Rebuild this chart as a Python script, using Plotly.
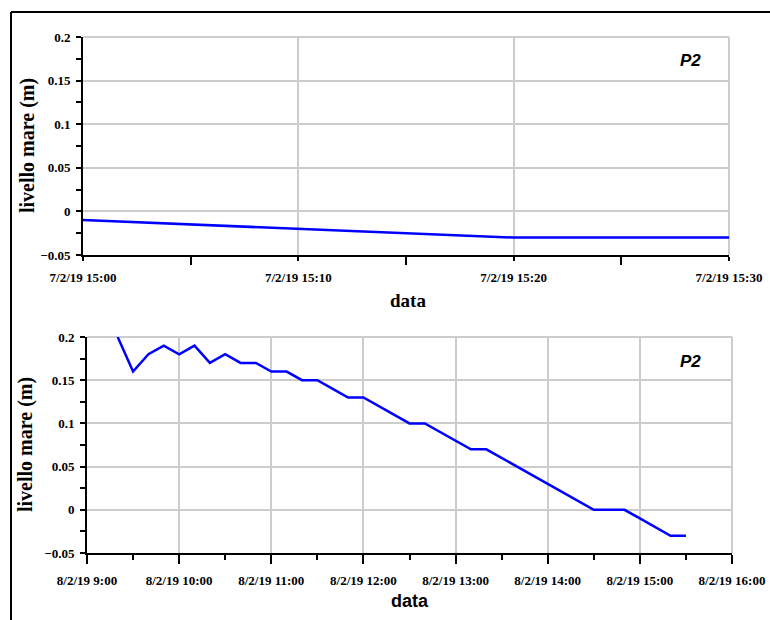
import plotly.graph_objects as go

# Tide gauge P2 - sea level, 7 Feb 2019 afternoon
times_7feb = ["2019-02-07 15:00", "2019-02-07 15:10", "2019-02-07 15:20", "2019-02-07 15:30"]
level_7feb = [-0.01, -0.02, -0.03, -0.03]

# Tide gauge P2 - sea level, 8 Feb 2019
times_8feb = [
    "2019-02-08 09:20", "2019-02-08 09:30", "2019-02-08 09:40", "2019-02-08 09:50",
    "2019-02-08 10:00", "2019-02-08 10:10", "2019-02-08 10:20", "2019-02-08 10:30",
    "2019-02-08 10:40", "2019-02-08 10:50", "2019-02-08 11:00", "2019-02-08 11:10",
    "2019-02-08 11:20", "2019-02-08 11:30", "2019-02-08 11:40", "2019-02-08 11:50",
    "2019-02-08 12:00", "2019-02-08 12:10", "2019-02-08 12:20", "2019-02-08 12:30",
    "2019-02-08 12:40", "2019-02-08 12:50", "2019-02-08 13:00", "2019-02-08 13:10",
    "2019-02-08 13:20", "2019-02-08 13:30", "2019-02-08 13:40", "2019-02-08 13:50",
    "2019-02-08 14:00", "2019-02-08 14:10", "2019-02-08 14:20", "2019-02-08 14:30",
    "2019-02-08 14:40", "2019-02-08 14:50", "2019-02-08 15:00", "2019-02-08 15:10",
    "2019-02-08 15:20", "2019-02-08 15:30",
]
level_8feb = [
    0.20, 0.16, 0.18, 0.19,
    0.18, 0.19, 0.17, 0.18,
    0.17, 0.17, 0.16, 0.16,
    0.15, 0.15, 0.14, 0.13,
    0.13, 0.12, 0.11, 0.10,
    0.10, 0.09, 0.08, 0.07,
    0.07, 0.06, 0.05, 0.04,
    0.03, 0.02, 0.01, 0.00,
    0.00, 0.00, -0.01, -0.02,
    -0.03, -0.03,
]

y_range = [-0.05, 0.2]
y_label = "livello mare (m)"
x_label = "data"
station = "P2"

W, H = 770, 620
SERIF = "Liberation Serif"
SANS = "Liberation Sans"
GRID = "#cccccc"
LINE_BLUE = "#0000ff"

fig = go.Figure()
fig.add_trace(go.Scatter(x=times_7feb, y=level_7feb, mode="lines",
                         line=dict(color=LINE_BLUE, width=2.5),
                         xaxis="x", yaxis="y", showlegend=False))
fig.add_trace(go.Scatter(x=times_8feb, y=level_8feb, mode="lines",
                         line=dict(color=LINE_BLUE, width=2.5),
                         xaxis="x2", yaxis="y2", showlegend=False))


def px_x(v):
    return v / W


def px_y(v):
    return 1 - v / H


tickfont = dict(family=SERIF, size=13, color="black", weight="bold")

common_y = dict(
    range=y_range, dtick=0.05, tick0=0, showgrid=True, gridcolor=GRID, gridwidth=2,
    zeroline=False, showline=True, linecolor="black", linewidth=2,
    ticks="outside", ticklen=5, tickwidth=2, tickcolor="black",
    minor=dict(dtick=0.025, tick0=0, ticks="outside", ticklen=5, tickwidth=2,
               tickcolor="black", showgrid=False),
    tickfont=tickfont, fixedrange=True, ticklabelstandoff=3,
)

fig.update_layout(
    width=W, height=H,
    margin=dict(l=0, r=0, t=0, b=0),
    paper_bgcolor="white", plot_bgcolor="white",
    xaxis=dict(
        domain=[px_x(83), px_x(729)], anchor="y", type="date",
        range=["2019-02-07 15:00", "2019-02-07 15:30"],
        dtick=600000, tick0="2019-02-07 15:00", tickformat="%-d/%-m/%y %H:%M",
        showgrid=True, gridcolor=GRID, gridwidth=2,
        showline=True, linecolor="black", linewidth=2,
        ticks="outside", ticklen=4, tickwidth=2, tickcolor="black",
        minor=dict(dtick=300000, tick0="2019-02-07 15:00", ticks="outside",
                   ticklen=8, tickwidth=2, tickcolor="black", showgrid=False),
        tickfont=tickfont, tickangle=0, automargin=False, ticklabelstandoff=5,
    ),
    yaxis=dict(domain=[px_y(255), px_y(37)], anchor="x", automargin=False, **common_y),
    xaxis2=dict(
        domain=[px_x(87), px_x(732)], anchor="y2", type="date",
        range=["2019-02-08 09:00", "2019-02-08 16:00"],
        dtick=3600000, tick0="2019-02-08 09:00", tickformat="%-d/%-m/%y %-H:%M",
        showgrid=True, gridcolor=GRID, gridwidth=2,
        showline=True, linecolor="black", linewidth=2,
        ticks="outside", ticklen=9, tickwidth=2, tickcolor="black",
        minor=dict(dtick=1800000, tick0="2019-02-08 09:00", ticks="outside",
                   ticklen=5, tickwidth=2, tickcolor="black", showgrid=False),
        tickfont=tickfont, tickangle=0, automargin=False, ticklabelstandoff=5,
    ),
    yaxis2=dict(domain=[px_y(553), px_y(337)], anchor="x2", automargin=False, **common_y),
)

annotations = [
    # y-axis titles
    dict(text=y_label, x=px_x(27), y=px_y(146), textangle=-90,
         font=dict(family=SERIF, size=20, color="black", weight="bold")),
    dict(text=y_label, x=px_x(25), y=px_y(445), textangle=-90,
         font=dict(family=SERIF, size=20, color="black", weight="bold")),
    # x-axis titles
    dict(text=x_label, x=px_x(408), y=px_y(300),
         font=dict(family=SERIF, size=19, color="black", weight="bold")),
    dict(text=x_label, x=px_x(410), y=px_y(601),
         font=dict(family=SANS, size=18, color="black", weight="bold")),
    # station labels
    dict(text=f"<i>{station}</i>", x=px_x(690), y=px_y(60),
         font=dict(family=SANS, size=17, color="black", weight="bold")),
    dict(text=f"<i>{station}</i>", x=px_x(690), y=px_y(361),
         font=dict(family=SANS, size=17, color="black", weight="bold")),
]
for a in annotations:
    a.update(xref="paper", yref="paper", showarrow=False, xanchor="center", yanchor="middle")
fig.update_layout(annotations=annotations)

# grey grid lines along the top and right edges of both plot areas
for xd, yd in (("x domain", "y domain"), ("x2 domain", "y2 domain")):
    fig.add_shape(type="line", xref=xd, yref=yd, x0=0, x1=1, y0=1, y1=1,
                  line=dict(color=GRID, width=2), layer="below")
    fig.add_shape(type="line", xref=xd, yref=yd, x0=1, x1=1, y0=0, y1=1,
                  line=dict(color=GRID, width=2), layer="below")

# outer frame (top and left edges)
fig.add_shape(type="line", xref="paper", yref="paper",
              x0=px_x(11), x1=1, y0=px_y(12), y1=px_y(12),
              line=dict(color="black", width=2))
fig.add_shape(type="line", xref="paper", yref="paper",
              x0=px_x(11), x1=px_x(11), y0=0, y1=px_y(12),
              line=dict(color="black", width=2))

fig.write_html("out.html")
